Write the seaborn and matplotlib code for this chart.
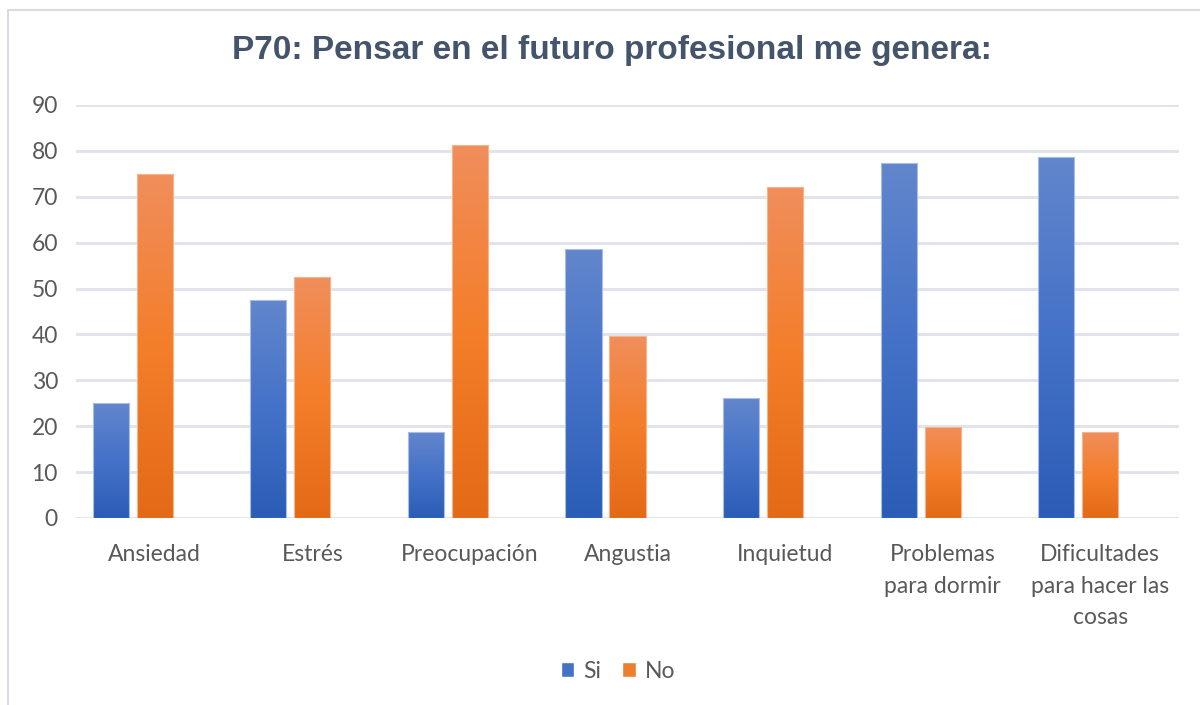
import numpy as np
import pandas as pd
import seaborn as sns
import matplotlib.pyplot as plt
from matplotlib.patches import Rectangle, Patch
from matplotlib.colors import LinearSegmentedColormap

categories = ['Ansiedad', 'Estrés', 'Preocupación', 'Angustia', 'Inquietud',
              'Problemas\npara dormir', 'Dificultades\npara hacer las\ncosas']
si = [25.0, 47.4, 18.7, 58.6, 26.1, 77.3, 78.7]
no = [75.0, 52.6, 81.3, 39.7, 72.2, 19.9, 18.7]
series = ['Si', 'No']
y_ticks = [0, 10, 20, 30, 40, 50, 60, 70, 80, 90]

# Excel chart had an empty third series, which pushes bars to the left
df = pd.DataFrame({
    'cat': categories * 3,
    'serie': ['Si'] * 7 + ['No'] * 7 + ['_empty'] * 7,
    'valor': si + no + [0.0] * 7,
})

sns.set_theme(style='white')
plt.rcParams['font.family'] = ['Lato', 'DejaVu Sans']

fig = plt.figure(figsize=(12, 7.05), dpi=100)
ax = fig.add_axes([76 / 1200, 1 - 518 / 705, 1103 / 1200, 413 / 705])

colors = {'Si': '#4472C4', 'No': '#ED7D31', '_empty': '#FFFFFF'}
sns.barplot(data=df, x='cat', y='valor', hue='serie', hue_order=['Si', 'No', '_empty'],
            palette=colors, width=0.838, gap=0.18, ax=ax, legend=False,
            linewidth=0, zorder=3)

# vertical gradients like the Excel fill
grad = {'Si': ['#2B5DB6', '#4472C8', '#6286CC'],
        'No': ['#E36A17', '#F47E2A', '#F08E5C']}
n = len(categories)
for i, p in enumerate(ax.patches[:2 * n]):
    key = 'Si' if i < n else 'No'
    cmap = LinearSegmentedColormap.from_list(key, grad[key])
    x0, y0 = p.get_x(), p.get_y()
    w, h = p.get_width(), p.get_height()
    p.set_facecolor('none')
    im = ax.imshow(np.linspace(0, 1, 256).reshape(-1, 1), cmap=cmap, origin='lower',
                   extent=[x0, x0 + w, y0, y0 + h], aspect='auto', zorder=3)
    im.set_clip_path(p)
    ax.add_patch(Rectangle((x0, y0), w, h, fill=False, lw=0.8,
                           edgecolor='#A9BEE6' if key == 'Si' else '#F6B48A', zorder=4))
for p in ax.patches[2 * n:3 * n]:
    p.set_visible(False)

ax.set_xlim(-0.5, n - 0.5)
ax.set_ylim(0, 90)
ax.set_yticks(y_ticks)
ax.yaxis.grid(True, color='#E1E4EA', lw=2.2, zorder=0)
ax.set_axisbelow(True)
sns.despine(ax=ax, left=True, bottom=True)
ax.tick_params(axis='both', length=0, colors='#595959', labelsize=16.5)
ax.tick_params(axis='y', pad=13)
ax.tick_params(axis='x', pad=19)
for t in ax.get_xticklabels():
    t.set_linespacing(1.6)
    t.set_color('#595959')
ax.set_xlabel('')
ax.set_ylabel('')

fig.text(0.51, 1 - 50 / 705, 'P70: Pensar en el futuro profesional me genera:',
         ha='center', va='center', fontsize=24, fontweight='bold',
         color='#44546A', family=['Liberation Sans', 'DejaVu Sans'])

handles = [Patch(facecolor='#4472C4', label='Si'), Patch(facecolor='#ED7D31', label='No')]
fig.legend(handles=handles, loc='center', bbox_to_anchor=(0.515, 1 - 671 / 705), ncol=2,
           frameon=False, fontsize=16.5, labelcolor='#595959', handlelength=0.6,
           handleheight=0.6, handletextpad=0.4, columnspacing=0.9)

fig.patches.append(Rectangle((8 / 1200, -0.1), 1.2, 1 - 10 / 705 + 0.1, transform=fig.transFigure,
                             fill=False, edgecolor='#D9DDE3', lw=1.5))

plt.savefig('out.png', dpi=100, facecolor='white')
